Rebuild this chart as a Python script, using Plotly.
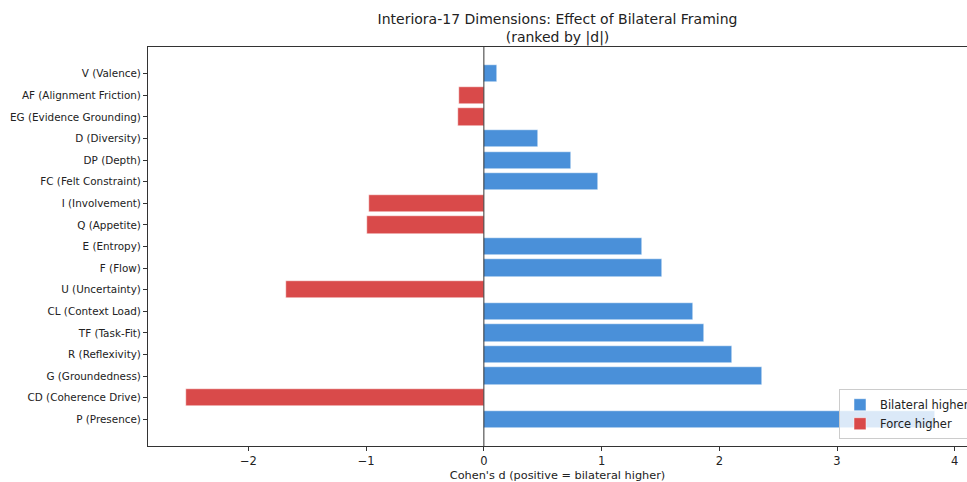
import plotly.graph_objects as go

# Data (top to bottom as displayed)
labels = ["V (Valence)", "AF (Alignment Friction)", "EG (Evidence Grounding)", "D (Diversity)",
          "DP (Depth)", "FC (Felt Constraint)", "I (Involvement)", "Q (Appetite)", "E (Entropy)",
          "F (Flow)", "U (Uncertainty)", "CL (Context Load)", "TF (Task-Fit)", "R (Reflexivity)",
          "G (Groundedness)", "CD (Coherence Drive)", "P (Presence)"]
d_values = [0.11, -0.21, -0.22, 0.46, 0.74, 0.97, -0.98, -0.99, 1.34, 1.51, -1.68, 1.78, 1.87,
            2.11, 2.36, -2.53, 3.83]
x_ticks = [-2, -1, 0, 1, 2, 3, 4]

BLUE = "#4A90D9"
RED = "#D94A4A"

n = len(labels)
ypos = [n - 1 - i for i in range(n)]

fig = go.Figure()
pos_y = [y for y, v in zip(ypos, d_values) if v >= 0]
pos_x = [v for v in d_values if v >= 0]
neg_y = [y for y, v in zip(ypos, d_values) if v < 0]
neg_x = [v for v in d_values if v < 0]

fig.add_trace(go.Bar(x=pos_x, y=pos_y, orientation="h", width=0.8, name="Bilateral higher",
                     marker=dict(color=BLUE, line=dict(color="white", width=0.5))))
fig.add_trace(go.Bar(x=neg_x, y=neg_y, orientation="h", width=0.8, name="Force higher",
                     marker=dict(color=RED, line=dict(color="white", width=0.5))))

fig.add_shape(type="line", x0=0, x1=0, y0=0, y1=1, yref="paper", xref="x",
              line=dict(color="black", width=0.8), layer="above")

fig.update_layout(
    width=967, height=482,
    margin=dict(l=148, r=0, t=47, b=36, autoexpand=False),
    paper_bgcolor="white", plot_bgcolor="white",
    font=dict(family="DejaVu Sans", size=11, color="#222"),
    title=dict(text="Interiora-17 Dimensions: Effect of Bilateral Framing<br>(ranked by |d|)",
               x=(148 + 967) / 2 / 967, xanchor="center", yref="container", y=0.95, yanchor="top",
               font=dict(size=14, color="#222")),
    barmode="overlay",
    bargap=0,
    showlegend=True,
    legend=dict(x=(839 - 148) / (967 - 148), y=0.017, xanchor="left", yanchor="bottom",
                bgcolor="rgba(255,255,255,0.8)", bordercolor="#cccccc", borderwidth=1,
                font=dict(size=11.5), traceorder="normal"),
    xaxis=dict(range=[-2.853, 4.104], tickvals=x_ticks, ticktext=[str(t).replace("-", "\u2212") for t in x_ticks],
               showgrid=False, zeroline=False, showline=True, mirror=True, linecolor="#333", linewidth=1,
               ticks="outside", ticklen=4, tickcolor="#333", tickfont=dict(size=11.5),
               title=dict(text="Cohen's d (positive = bilateral higher)", font=dict(size=11.3), standoff=5)),
    yaxis=dict(range=[-1.24, 17.24], tickvals=ypos, ticktext=labels,
               showgrid=False, zeroline=False, showline=True, mirror=True, linecolor="#333", linewidth=1,
               ticks="outside", ticklen=4, tickcolor="#333", tickfont=dict(size=10.4)),
)

fig.write_html("out.html", config={"displayModeBar": False},
               post_script="document.body.style.margin='0';document.body.style.overflow='hidden';")
